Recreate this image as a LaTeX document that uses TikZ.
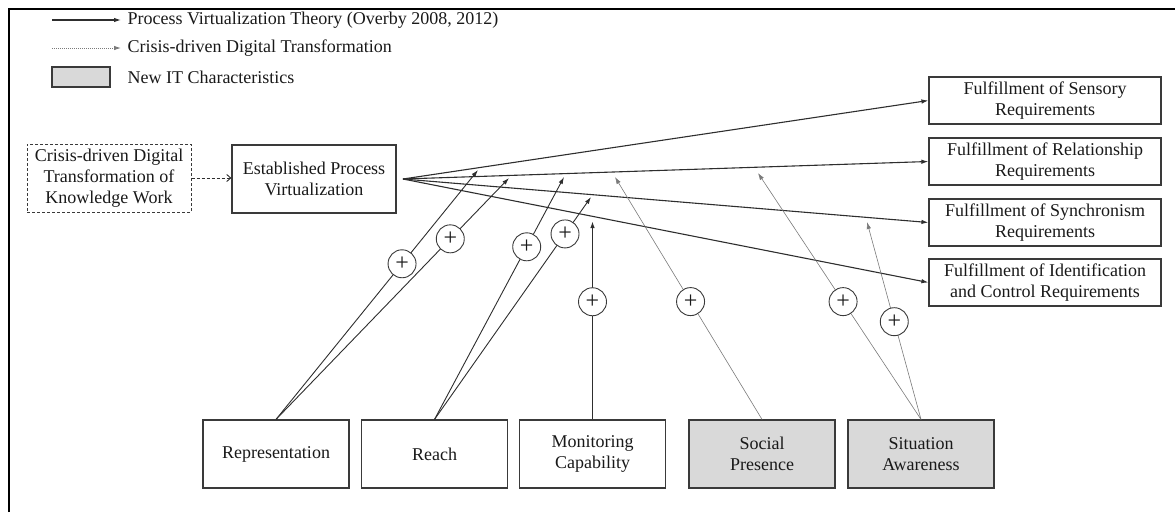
\documentclass[tikz,border=0pt]{standalone}
\usepackage{fontspec}
\setmainfont{Liberation Serif}
\usetikzlibrary{arrows.meta}
\definecolor{boxline}{HTML}{3A3A3A}
\definecolor{arrowline}{HTML}{2E2E2E}
\definecolor{thinline}{HTML}{7A7A7A}
\definecolor{itgray}{HTML}{D9D9D9}
\begin{document}
\begin{tikzpicture}[x=1pt,y=-1pt,
  every node/.style={font=\fontsize{18}{21}\selectfont, text=black!90},
  box/.style={draw=boxline, line width=1.2pt, rectangle, inner sep=0pt, align=center},
  rbox/.style={box, minimum width=232pt, minimum height=47pt},
  bbox/.style={box, minimum width=146pt, minimum height=68pt},
  lbox/.style={box, minimum width=164pt, minimum height=68pt},
  newit/.style={fill=itgray},
  plus/.style={circle, draw=boxline, line width=0.9pt, fill=white, minimum size=28pt,
               inner sep=0pt, font=\fontsize{24}{24}\selectfont},
  tip/.style={-{Latex[length=7pt,width=4.5pt]}},
  pvt/.style={tip, draw=arrowline, line width=1.1pt},
  modline/.style={tip, draw=arrowline, line width=0.9pt},
  monline/.style={tip, draw=arrowline, line width=1.4pt},
  itline/.style={tip, draw=thinline, line width=0.6pt},
  crisisline/.style={draw=arrowline, line width=0.9pt, dash pattern=on 3pt off 2pt,
                     -{Straight Barb[length=4pt,width=7pt]}},
  legdots/.style={tip, draw=thinline, line width=0.9pt, dash pattern=on 1pt off 1pt},
]
\useasboundingbox (0,0) rectangle (1175,512);

% outer frame (left and top edges)
\draw[line width=2.4pt, line join=miter] (9,512) -- (9,9) -- (1175,9);

% legend
\coordinate (leg1a) at (52,20);
\coordinate (leg1b) at (121,20);
\coordinate (leg2a) at (52,48);
\coordinate (leg2b) at (121,48);
\draw[pvt] (leg1a) -- (leg1b);
\draw[legdots] (leg2a) -- (leg2b);
\node[box, newit, minimum width=58pt, minimum height=20pt] (legbox) at (81,77) {};
\node[anchor=west] (leg1) at (124,20) {Process Virtualization Theory (Overby 2008, 2012)};
\node[anchor=west] (leg2) at (124,48) {Crisis-driven Digital Transformation};
\node[anchor=west] (leg3) at (124,77) {New IT Characteristics};

% left boxes
\node[lbox, dash pattern=on 3pt off 2pt, line width=1pt] (crisis) at (109,178)
  {Crisis-driven Digital\\Transformation of\\Knowledge Work};
\node[lbox] (epv) at (314,179) {Established Process\\Virtualization};
\draw[crisisline] (crisis.east) -- (crisis.east -| epv.west);

% outcome boxes
\node[rbox] (sens) at (1045,100.5) {Fulfillment of Sensory\\Requirements};
\node[rbox] (rel)  at (1045,161.5) {Fulfillment of Relationship\\Requirements};
\node[rbox] (sync) at (1045,222.5) {Fulfillment of Synchronism\\Requirements};
\node[rbox] (idc)  at (1045,282.5) {Fulfillment of Identification\\and Control Requirements};

% fan of PVT relationships
\coordinate (fan) at (403,179);
\draw[pvt] (fan) -- (sens.west);
\draw[pvt] (fan) -- (rel.west);
\draw[pvt] (fan) -- (sync.west);
\draw[pvt] (fan) -- (idc.west);

% IT characteristics
\node[bbox] (rep)  at (276,454)   {Representation};
\node[bbox] (reach) at (434.5,454) {Reach};
\node[bbox] (mon)  at (592.5,454) {Monitoring\\Capability};
\node[bbox, newit] (soc) at (762,454) {Social\\Presence};
\node[bbox, newit] (sit) at (921,454) {Situation\\Awareness};

% moderating effects
\coordinate (m1) at (478,170);
\coordinate (m2) at (509,178);
\coordinate (m3) at (564,177);
\coordinate (m4) at (591,197);
\coordinate (m5) at (592.5,221);
\coordinate (m6) at (615,177);
\coordinate (m7) at (758,173);
\coordinate (m8) at (867,222);

\draw[modline] (rep.north) -- node[plus, pos=0.624] (p1) {+} (m1);
\draw[modline] (rep.north) -- node[plus, pos=0.748] (p2) {+} (m2);
\draw[modline] (reach.north) -- node[plus, pos=0.712] (p3) {+} (m3);
\draw[modline] (reach.north) -- node[plus, pos=0.834] (p4) {+} (m4);
\draw[monline] (mon.north) -- node[plus, pos=0.593] (p5) {+} (m5);
\draw[itline] (soc.north) -- node[plus, pos=0.486] (p6) {+} (m6);
\draw[itline] (sit.north) -- node[plus, pos=0.478] (p7) {+} (m7);
\draw[itline] (sit.north) -- node[plus, pos=0.495] (p8) {+} (m8);
\end{tikzpicture}
\end{document}
